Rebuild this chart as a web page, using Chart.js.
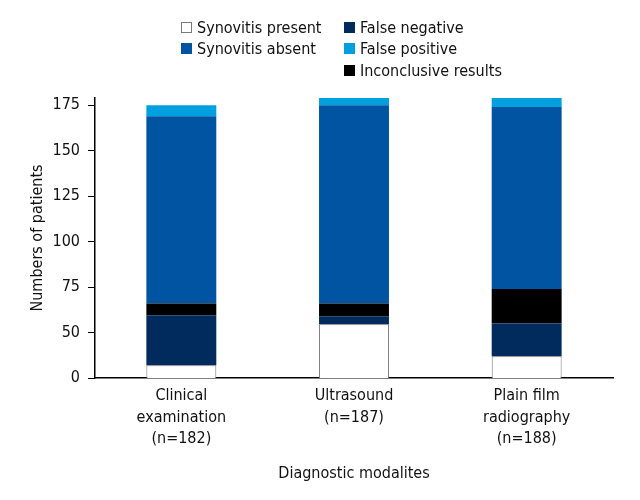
<!DOCTYPE html>
<html>
<head>
<meta charset="utf-8">
<script src="https://cdn.jsdelivr.net/npm/chart.js@4/dist/chart.umd.min.js"></script>
<style>
    body { margin: 0; background: #fff; }
    #wrap { position: relative; width: 640px; height: 500px; }
    #legend {
        position: absolute; left: 0; top: 0;
        font-family: "Liberation Sans Narrow", "DejaVu Sans Condensed", sans-serif;
        font-size: 16px; color: #111;
    }
    .item { position: absolute; display: flex; align-items: center; white-space: nowrap; height: 22px; }
    .box { width: 11px; height: 11px; margin-right: 5px; box-sizing: border-box; }
</style>
</head>
<body>
<div id="wrap">
    <canvas id="chart" width="640" height="500"></canvas>
    <div id="legend"></div>
</div>
<script>
const categories = [
    ["Clinical", "examination", "(n=182)"],
    ["Ultrasound", "(n=187)"],
    ["Plain film", "radiography", "(n=188)"],
];
// y axis starts at 25 but the original labels that line "0"
const y_ticks = [25, 50, 75, 100, 125, 150, 175];
const y_tick_labels = ["0", "50", "75", "100", "125", "150", "175"];

const synovitis_present = [32, 54.5, 37];
const false_negative = [27.5, 4.5, 18];
const inconclusive = [6.5, 7, 19];
const synovitis_absent = [103, 109, 100];
const false_positive = [6, 4, 5.5];

const font_family = '"Liberation Sans Narrow", "DejaVu Sans Condensed", sans-serif';

const datasets = [
    { label: "Synovitis present", data: synovitis_present, backgroundColor: "#ffffff", borderColor: "#7a7a7a", borderWidth: 1 },
    { label: "False negative", data: false_negative, backgroundColor: "#002b5c" },
    { label: "Inconclusive results", data: inconclusive, backgroundColor: "#000000" },
    { label: "Synovitis absent", data: synovitis_absent, backgroundColor: "#0054a2" },
    { label: "False positive", data: false_positive, backgroundColor: "#009fe0" },
];

// legend: two columns like the original
const legend_order = [
    ["Synovitis present", 181, 16],
    ["Synovitis absent", 181, 37],
    ["False negative", 344, 16],
    ["False positive", 344, 37],
    ["Inconclusive results", 344, 59],
];

function drawLegend() {
    const legend = document.getElementById("legend");
    legend.innerHTML = legend_order.map(([label, x, y]) => {
        const ds = datasets.find((d) => d.label == label);
        const border = ds.borderColor ? `1px solid ${ds.borderColor}` : "none";
        return `<div class="item" style="left:${x}px;top:${y}px">
            <span class="box" style="background:${ds.backgroundColor};border:${border}"></span>${label}</div>`;
    }).join("");
}

new Chart(document.getElementById("chart"), {
    type: "bar",
    data: {
        labels: categories,
        datasets: datasets.map((d) => ({ ...d, categoryPercentage: 1, barPercentage: 0.405 })),
    },
    options: {
        responsive: false,
        animation: false,
        layout: { padding: { top: 98, right: 27, left: 0, bottom: 0 } },
        plugins: { legend: { display: false }, tooltip: { enabled: false } },
        scales: {
            x: {
                stacked: true,
                afterFit: (scale) => { scale.height = 122; },
                grid: { display: false },
                border: { color: "#000", width: 1.5 },
                ticks: { color: "#111", padding: -1, font: { family: font_family, size: 16, lineHeight: 1.35 } },
                title: {
                    display: true, text: "Diagnostic modalites", color: "#111",
                    font: { family: font_family, size: 16 }, padding: { top: 4, bottom: 17 },
                },
            },
            y: {
                stacked: true,
                min: 25,
                max: 179,
                afterFit: (scale) => { scale.width = 95; },
                afterBuildTicks: (scale) => {
                    scale.ticks = y_ticks.map((v) => ({ value: v }));
                },
                grid: { drawOnChartArea: false, drawTicks: true, tickLength: 7, color: "#000" },
                border: { color: "#000", width: 1.5 },
                ticks: {
                    color: "#111", padding: 8, font: { family: font_family, size: 16 },
                    callback: (value) => y_tick_labels[y_ticks.indexOf(value)],
                },
                title: {
                    display: true, text: "Numbers of patients", color: "#111",
                    font: { family: font_family, size: 16 }, padding: { top: 28, bottom: 4 },
                },
            },
        },
    },
});

drawLegend();
</script>
</body>
</html>
